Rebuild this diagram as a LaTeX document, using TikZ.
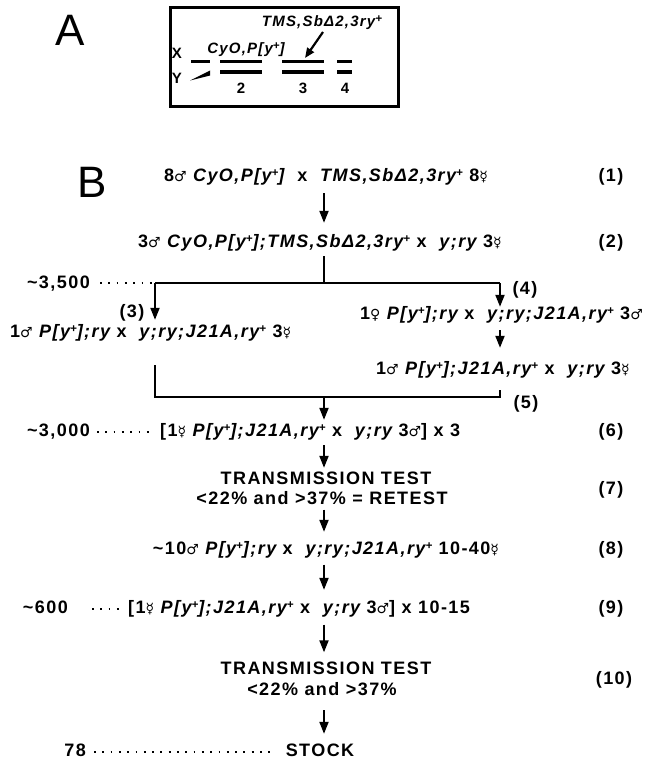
\documentclass[tikz,border=0pt]{standalone}
\usepackage{fontspec}
\setmainfont{Liberation Sans}[LetterSpace=8]
\newfontfamily\symf{DejaVu Sans}
\usetikzlibrary{arrows.meta}
\newcommand{\gM}{{\symf\mdseries\upshape\fontsize{14}{14}\selectfont\char"2642}}
\newcommand{\gF}{{\symf\mdseries\upshape\fontsize{14}{14}\selectfont\char"2640}}
\newcommand{\gH}{{\symf\mdseries\upshape\fontsize{14}{14}\selectfont\char"263F}}
\newcommand{\pl}{\raisebox{0.5ex}{\fontsize{11.5}{11.5}\selectfont +}}
\newcommand{\gi}[1]{{\itshape #1}}
\begin{document}
\begin{tikzpicture}[x=1pt,y=-1pt,
  txt/.style={font=\fontsize{18}{20}\selectfont\bfseries, inner sep=0pt, text height=12.5pt, text depth=3.5pt},
  small/.style={font=\fontsize{15}{17}\selectfont\bfseries, inner sep=0pt},
  big/.style={font=\fontsize{44}{44}\selectfont, inner sep=0pt},
  ln/.style={line width=2pt},
  arr/.style={line width=2pt, -{Triangle[length=12pt,width=9pt]}},
  dotl/.style={line width=1.8pt, dash pattern=on 1.8pt off 6.5pt},
  chrom/.style={line width=3pt},
]
\useasboundingbox (0,0) rectangle (645,760);
\fill[white] (0,0) rectangle (645,760);

% ---------- Panel A ----------
\node[big] (A) at (70,30) {A};
\node[draw, line width=3pt, minimum width=228pt, minimum height=98pt, inner sep=0pt] (boxA) at (284,57) {};
\node[small] (X) at (177,53) {X};
\node[small] (Y) at (177,78) {Y};
\draw[chrom] (191,62) -- (210,62);
\fill (190,80.5) -- (210,70.5) -- (210,75.5) -- cycle;
\draw[chrom] (220,62) -- (262,62);
\draw[chrom] (220,72) -- (262,72);
\draw[chrom] (282,62) -- (324,62);
\draw[chrom] (282,72) -- (324,72);
\draw[chrom] (337,62) -- (352,62);
\draw[chrom] (337,72) -- (352,72);
\node[small] (c2) at (241,88) {2};
\node[small] (c3) at (303,88) {3};
\node[small] (c4) at (345,88) {4};
\node[small] (cyo) at (246,50) {\gi{CyO,P[y\pl]}};
\node[small] (tms) at (322,23) {\gi{TMS,SbΔ2,3ry\pl}};
\coordinate (tmsstart) at (323,32);
\coordinate (tmsend) at (305,58);
\draw[line width=2.2pt, -{Triangle[length=10pt,width=8pt]}] (tmsstart) -- (tmsend);

% ---------- Panel B ----------
\node[big] (B) at (92,182) {B};
\coordinate (ax) at (324,0);

\node[txt] (t1) at (326,177) {8\gM\ \gi{CyO,P[y\pl]}\ \ x\ \ \gi{TMS,SbΔ2,3ry\pl}\ 8\gH};
\node[txt] (n1) at (611,177) {(1)};
\node[txt] (t2) at (320,243) {3\gM\ \gi{CyO,P[y\pl];TMS,SbΔ2,3ry\pl}\ x\ \ \gi{y;ry}\ 3\gH};
\node[txt] (n2) at (611,243) {(2)};
\draw[arr, shorten <=8pt, shorten >=12pt] (t1.south -| ax) -- (t2.north -| ax);

\coordinate (j2) at (324,283);
\coordinate (bl) at (155,283);
\coordinate (br) at (500,283);
\draw[ln, shorten <=5pt] (t2.south -| ax) -- (j2);
\draw[ln] (bl) -- (br);

\node[txt, anchor=east] (n3500) at (90,284) {\textasciitilde 3,500};
\coordinate (d1a) at (100,283);
\draw[dotl] (d1a) -- (bl);

\node[txt, anchor=west] (t3) at (10,333) {1\gM\ \gi{P[y\pl];ry}\ x\ \ \gi{y;ry;J21A,ry\pl}\ 3\gH};
\node[txt] (n3) at (132,313) {(3)};
\draw[arr, shorten >=5pt] (bl) -- (t3.north -| bl);

\node[txt, anchor=east] (t4) at (643,315) {1\gF\ \gi{P[y\pl];ry}\ x\ \ \gi{y;ry;J21A,ry\pl}\ 3\gM};
\node[txt] (n4) at (525,290) {(4)};
\draw[arr] (br) -- (t4.north -| br);

\node[txt, anchor=east] (t5) at (630,370) {1\gM\ \gi{P[y\pl];J21A,ry\pl}\ x\ \ \gi{y;ry}\ 3\gH};
\draw[arr, shorten <=7pt, shorten >=14pt] (t4.south -| br) -- (t5.north -| br);

\coordinate (l5) at (155,397);
\coordinate (r5) at (500,397);
\coordinate (j5) at (324,397);
\draw[ln, shorten <=12pt, shorten >=24pt] (t5.south -| r5) -- (r5) -- (l5) -- (t3.south -| l5);
\node[txt] (n5) at (526,404) {(5)};

\node[txt, anchor=west] (t6) at (160,432) {[1\gH\ \gi{P[y\pl];J21A,ry\pl}\ x\ \ \gi{y;ry}\ 3\gM]\ x\ 3};
\node[txt, anchor=east] (n3000) at (90,432) {\textasciitilde 3,000};
\coordinate (d2a) at (97,432);
\draw[dotl] (d2a) -- ([xshift=-8pt]t6.west);
\node[txt] (n6) at (611,432) {(6)};
\draw[arr, shorten >=4pt] (j5) -- (t6.north -| j5);

\node[txt] (t7a) at (326,480) {TRANSMISSION TEST};
\node[txt] (t7b) at (322,500) {<22\% and >37\% = RETEST};
\node[txt] (n7) at (611,490) {(7)};
\draw[arr, shorten <=5pt, shorten >=4pt] (t6.south -| ax) -- (t7a.north -| ax);

\node[txt] (t8) at (326,550) {\textasciitilde 10\gM\ \gi{P[y\pl];ry}\ x\ \ \gi{y;ry;J21A,ry\pl}\ 10-40\gH};
\node[txt] (n8) at (611,550) {(8)};
\draw[arr, shorten <=1.5pt, shorten >=10pt] (t7b.south -| ax) -- (t8.north -| ax);

\node[txt, anchor=west] (t9) at (128,609) {[1\gH\ \gi{P[y\pl];J21A,ry\pl}\ x\ \ \gi{y;ry}\ 3\gM]\ x\ 10-15};
\node[txt, anchor=east] (n600) at (68,609) {\textasciitilde 600};
\coordinate (d3a) at (92,609);
\draw[dotl] (d3a) -- ([xshift=-6pt]t9.west);
\node[txt] (n9) at (611,609) {(9)};
\draw[arr, shorten <=6.5pt, shorten >=11pt] (t8.south -| ax) -- (t9.north -| ax);

\node[txt] (t10a) at (326,670) {TRANSMISSION TEST};
\node[txt] (t10b) at (322,691) {<22\% and >37\%};
\node[txt] (n10) at (614,680) {(10)};
\draw[arr, shorten <=7.5pt, shorten >=9.5pt] (t9.south -| ax) -- (t10a.north -| ax);

\node[txt] (stock) at (320,752) {STOCK};
\node[txt, anchor=east] (n78) at (86,752) {78};
\coordinate (d4a) at (94,752);
\draw[dotl] (d4a) -- ([xshift=-16pt]stock.west);
\draw[arr, shorten <=11pt, shorten >=10pt] (t10b.south -| ax) -- (stock.north -| ax);
\end{tikzpicture}
\end{document}
